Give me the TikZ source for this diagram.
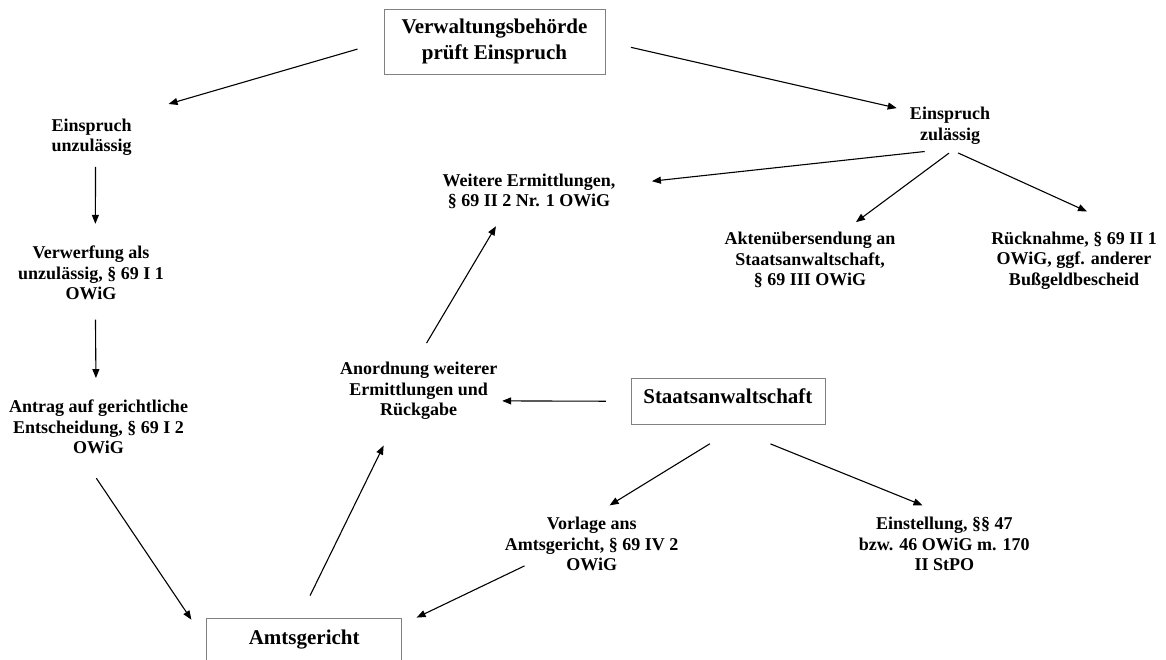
\documentclass[tikz,border=0pt]{standalone}
\usepackage{fontspec}
\setmainfont{Liberation Serif}
\usetikzlibrary{arrows.meta}

\begin{document}
\begin{tikzpicture}[x=1pt, y=1pt,
    lbl/.style={inner sep=0pt, align=center, font=\bfseries\fontsize{18}{20.5}\selectfont},
    box/.style={draw=black!50, line width=0.8pt, inner sep=2pt, align=center,
      font=\bfseries\fontsize{21}{26}\selectfont},
    arr/.style={line width=1.1pt, -{Triangle[length=9pt, width=7pt]}}
  ]
      \useasboundingbox (0,0) rectangle (1166,-660);

      \node[box, minimum width=221, minimum height=65] (verw) at (494.5,-41.5)
        {Verwaltungsbehörde\\prüft Einspruch};
      \node[box, minimum width=195, minimum height=47, text height=14, text depth=9] (amtsg)
        at (304.2,-641.8) {Amtsgericht};
      \node[box, minimum width=194, minimum height=46, text height=14, text depth=9] (staats)
        at (727.9,-401.3) {Staatsanwaltschaft};

      \node[lbl] (unzul) at (91.6,-137) {Einspruch\\unzulässig};
      \node[lbl] (verwerf) at (91,-273) {Verwerfung als\\unzulässig, § 69 I 1\\OWiG};
      \node[lbl] (antrag) at (98.5,-427) {Antrag auf gerichtliche\\Entscheidung, § 69 I 2\\OWiG};
      \node[lbl] (anord) at (418.7,-391.2) {Anordnung weiterer\\Ermittlungen und\\Rückgabe};
      \node[lbl] (weitere) at (529,-191.2) {Weitere Ermittlungen,\\§ 69 II 2 Nr. 1 OWiG};
      \node[lbl] (zul) at (950,-125.7) {Einspruch\\zulässig};
      \node[lbl] (akten) at (810,-260.3) {Aktenübersendung an\\Staatsanwaltschaft,\\§ 69 III OWiG};
      \node[lbl] (rueck) at (1074,-260.3) {Rücknahme, § 69 II 1\\OWiG, ggf. anderer\\Bußgeldbescheid};
      \node[lbl] (vorlage) at (591.7,-544.3) {Vorlage ans\\Amtsgericht, § 69 IV 2\\OWiG};
      \node[lbl] (einst) at (944.3,-544.3) {Einstellung, §§ 47\\bzw. 46 OWiG m. 170\\II StPO};

      \draw[arr, shorten <=27.1pt, shorten >=51.3pt] (verw.west) -- (unzul.34);
      \draw[arr, shorten <=26.2pt, shorten >=13.4pt] (verw.east) -- (zul.160);
      \draw[arr, shorten <=11.2pt, shorten >=22pt] (unzul.-78) -- (verwerf.81);
      \draw[arr, shorten <=19.4pt, shorten >=21.8pt] (verwerf.-81) -- (antrag.95);
      \draw[arr, shorten <=28.9pt, shorten >=26.7pt] (antrag.-124) -- (amtsg.west);
      \draw[arr, shorten <=24.8pt, shorten >=28.3pt] (amtsg.102) -- (anord.-128);
      \draw[arr, shorten <=24.7pt, shorten >=4.7pt] (staats.west) -- (anord.-7);
      \draw[arr, shorten <=22.3pt, shorten >=20.1pt] (anord.97) -- (weitere.-142);
      \draw[arr, shorten <=65.9pt, shorten >=36.6pt] (zul.south east) -- (weitere.4);
      \draw[arr, shorten <=14.7pt, shorten >=17pt] (zul.-60) -- (akten.41);
      \draw[arr, shorten <=20.8pt, shorten >=48.1pt] (zul.-120) -- (rueck.27);
      \draw[arr, shorten <=36.5pt, shorten >=22.7pt] (staats.-61) -- (vorlage.93);
      \draw[arr, shorten <=51.3pt, shorten >=31.9pt] (staats.-102) -- (einst.74);
      \draw[arr, shorten <=-12.7pt, shorten >=16.1pt] (vorlage.-161) -- (amtsg.10);
    \end{tikzpicture}
\end{document}
